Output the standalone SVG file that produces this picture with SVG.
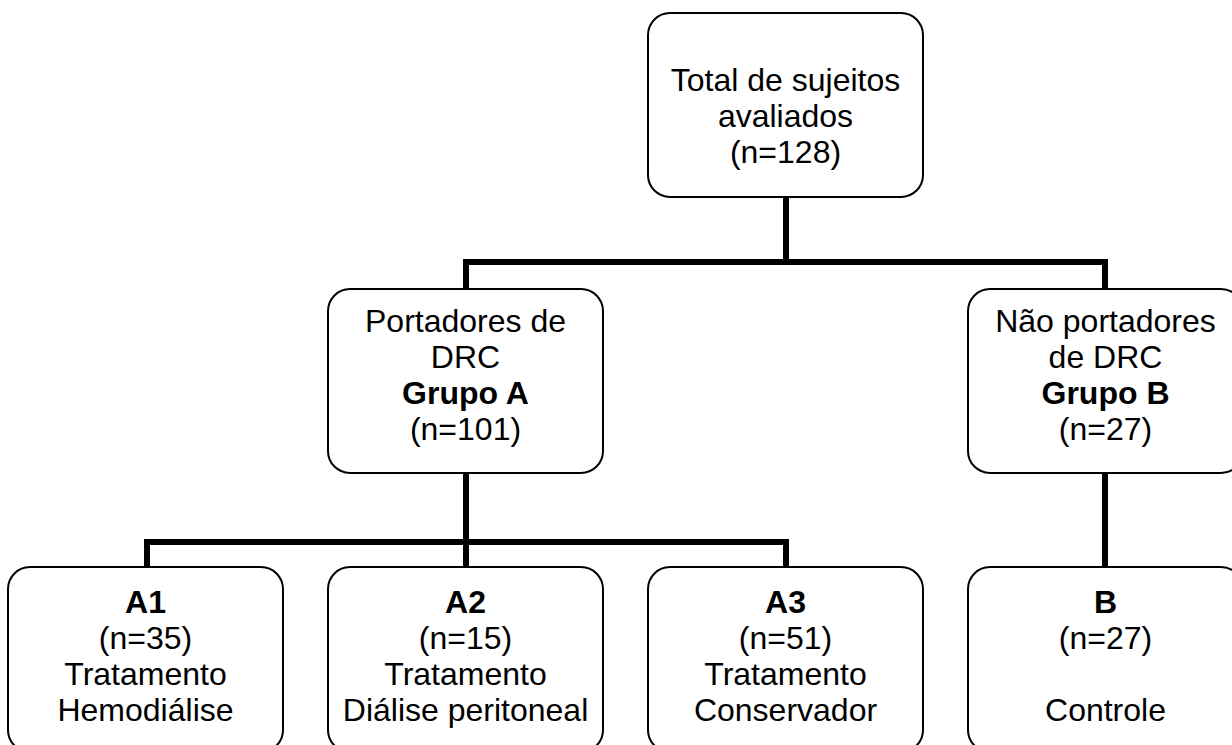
<svg xmlns="http://www.w3.org/2000/svg" width="1232" height="745" viewBox="0 0 1232 745">
<style>
.box{fill:#fff;stroke:#000;stroke-width:2}
.t{font-family:"Liberation Sans",Arial,sans-serif;font-size:32px;fill:#000;text-anchor:middle}
.b{font-weight:bold}
.c{fill:none;stroke:#000;stroke-width:6;stroke-linejoin:miter;stroke-linecap:butt}
</style>
<rect width="1232" height="745" fill="#fff"/>
<g id="connectors">
<path class="c" d="M786 197 V262 M466 289 V262 H1105 V289"/>
<path class="c" d="M466 473 V542 M147 567 V542 H786 V567 M466 542 V567"/>
<path class="c" d="M1105 473 V567"/>
</g>
<g id="total">
<rect class="box" x="648" y="13" width="275" height="184" rx="22"/>
<text class="t" x="785.5" y="91">Total de sujeitos</text>
<text class="t" x="785.5" y="127">avaliados</text>
<text class="t" x="785.5" y="163">(n=128)</text>
</g>
<g id="grupoA">
<rect class="box" x="328" y="289" width="275" height="184" rx="22"/>
<text class="t" x="465.5" y="332">Portadores de</text>
<text class="t" x="465.5" y="368">DRC</text>
<text class="t b" x="465.5" y="404">Grupo A</text>
<text class="t" x="465.5" y="440">(n=101)</text>
</g>
<g id="grupoB">
<rect class="box" x="968" y="289" width="275" height="184" rx="22"/>
<text class="t" x="1105.5" y="332">Não portadores</text>
<text class="t" x="1105.5" y="368">de DRC</text>
<text class="t b" x="1105.5" y="404">Grupo B</text>
<text class="t" x="1105.5" y="440">(n=27)</text>
</g>
<g id="A1">
<rect class="box" x="8" y="567" width="275" height="185" rx="22"/>
<text class="t b" x="145.5" y="613">A1</text>
<text class="t" x="145.5" y="649">(n=35)</text>
<text class="t" x="145.5" y="685">Tratamento</text>
<text class="t" x="145.5" y="721">Hemodiálise</text>
</g>
<g id="A2">
<rect class="box" x="328" y="567" width="275" height="185" rx="22"/>
<text class="t b" x="465.5" y="613">A2</text>
<text class="t" x="465.5" y="649">(n=15)</text>
<text class="t" x="465.5" y="685">Tratamento</text>
<text class="t" x="465.5" y="721">Diálise peritoneal</text>
</g>
<g id="A3">
<rect class="box" x="648" y="567" width="275" height="185" rx="22"/>
<text class="t b" x="785.5" y="613">A3</text>
<text class="t" x="785.5" y="649">(n=51)</text>
<text class="t" x="785.5" y="685">Tratamento</text>
<text class="t" x="785.5" y="721">Conservador</text>
</g>
<g id="B">
<rect class="box" x="968" y="567" width="275" height="185" rx="22"/>
<text class="t b" x="1105.5" y="613">B</text>
<text class="t" x="1105.5" y="649">(n=27)</text>
<text class="t" x="1105.5" y="721">Controle</text>
</g>
</svg>
